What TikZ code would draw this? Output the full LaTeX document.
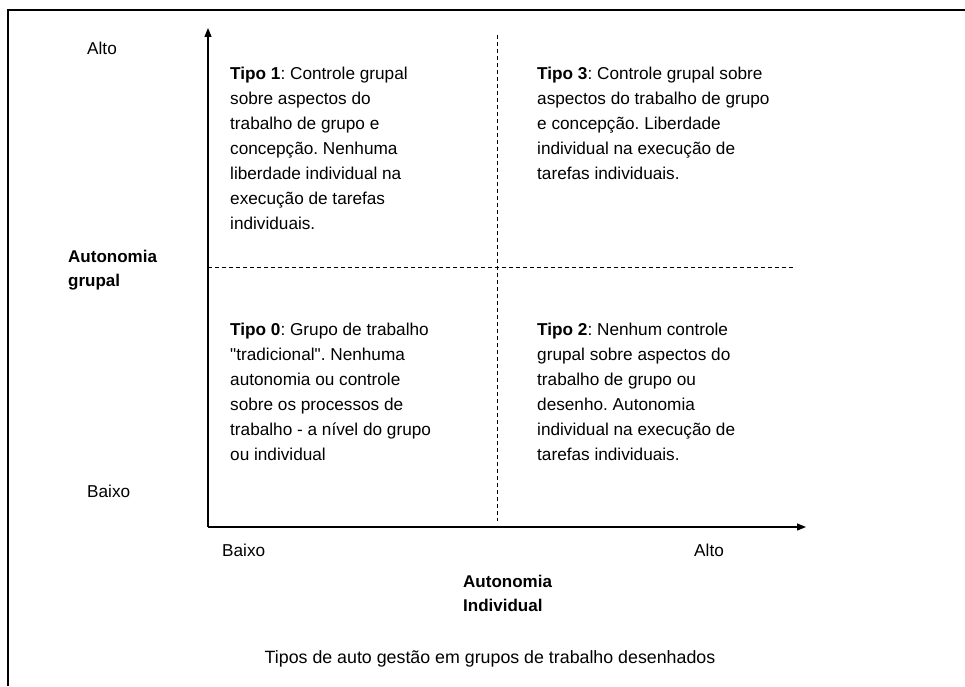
\documentclass[tikz,border=0pt]{standalone}
\usepackage{fontspec}
\setmainfont{Liberation Sans}
% plain family without TeX ligatures, for straight double quotes
\newfontfamily\straightfont{Liberation Sans}
\newcommand{\sq}{{\straightfont"}}
\usetikzlibrary{arrows.meta}
\frenchspacing
\begin{document}
\begin{tikzpicture}[x=1pt,y=1pt,
  txt/.style={anchor=base west,inner sep=0pt,align=left,
    font=\fontsize{17.2}{25}\selectfont},
  boldtxt/.style={txt,font=\bfseries\fontsize{17}{24}\selectfont},
  axis/.style={line width=1.2pt,-{Triangle[length=9pt,width=7pt]}},
  divider/.style={line width=0.9pt,dash pattern=on 4pt off 3pt},
  frameline/.style={line width=1.6pt}]
\useasboundingbox (0,0) rectangle (965,686);
% frame
\coordinate (fbl) at (8,0);
\coordinate (ftl) at (8,676);
\coordinate (ftr) at (965,676);
\draw[frameline] (fbl) -- (ftl) -- (ftr);
% axes
\coordinate (o) at (208,159);
\coordinate (ytip) at (208,658);
\coordinate (xtip) at (806,159);
\draw[axis] (o) -- (ytip);
\draw[axis] (o) -- (xtip);
% quadrant dividers
\coordinate (vtop) at (497,651);
\coordinate (vbot) at (497,165);
\coordinate (hl) at (208,419);
\coordinate (hr) at (795,419);
\draw[divider] (vtop) -- (vbot);
\draw[divider] (hl) -- (hr);
% axis labels (multi-line nodes are placed by the baseline of their last line)
\node[txt] (yalto) at (87,631) {Alto};
\node[txt] (ybaixo) at (87,189) {Baixo};
\node[boldtxt] (ylab) at (68,399) {Autonomia\\grupal};
\node[txt] (xbaixo) at (222,130) {Baixo};
\node[txt] (xalto) at (694,130) {Alto};
\node[boldtxt] (xlab) at (463,75) {Autonomia\\Individual};
% quadrant texts
\node[txt] (t1) at (230,456) {\textbf{Tipo 1}: Controle grupal\\sobre aspectos do\\trabalho de grupo e\\concepção. Nenhuma\\liberdade individual na\\execução de tarefas\\individuais.};
\node[txt] (t3) at (537,506) {\textbf{Tipo 3}: Controle grupal sobre\\aspectos do trabalho de grupo\\e concepção. Liberdade\\individual na execução de\\tarefas individuais.};
\node[txt] (t0) at (230,226) {\textbf{Tipo 0}: Grupo de trabalho\\\sq tradicional\sq. Nenhuma\\autonomia ou controle\\sobre os processos de\\trabalho - a nível do grupo\\ou individual};
\node[txt] (t2) at (537,226) {\textbf{Tipo 2}: Nenhum controle\\grupal sobre aspectos do\\trabalho de grupo ou\\desenho. Autonomia\\individual na execução de\\tarefas individuais.};
% caption
\node[txt,anchor=base,font=\fontsize{17.8}{25}\selectfont] (cap) at (490,23) {Tipos de auto gestão em grupos de trabalho desenhados};
\end{tikzpicture}
\end{document}
